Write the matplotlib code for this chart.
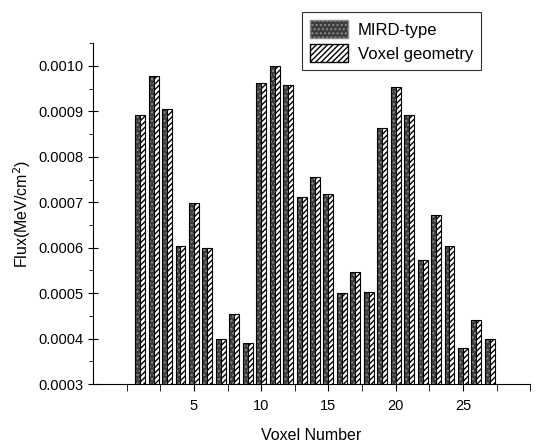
import numpy as np
import matplotlib.pyplot as plt
from matplotlib.patches import Patch
from matplotlib.ticker import MultipleLocator, FixedLocator

plt.rcParams['font.family'] = ['Liberation Sans', 'DejaVu Sans']

voxel = np.arange(1, 28)
mird = [0.000891, 0.000978, 0.000905, 0.000603, 0.000699, 0.000600, 0.000399,
        0.000454, 0.000391, 0.000962, 0.000999, 0.000959, 0.000712, 0.000755,
        0.000718, 0.000500, 0.000546, 0.000503, 0.000864, 0.000953, 0.000892,
        0.000572, 0.000673, 0.000604, 0.000380, 0.000441, 0.000398]
vox = list(mird)

fig = plt.figure(figsize=(5.41, 4.45), dpi=100)
ax = fig.add_axes([0.172, 0.137, 0.808, 0.766])

w = 0.37
# MIRD: dark stipple
ax.bar(voxel - w / 2, mird, w, facecolor='#3c3c3c', edgecolor='#8a8a8a',
       hatch='....', linewidth=0)
ax.bar(voxel - w / 2, mird, w, fill=False, edgecolor='black', linewidth=0.8)
# voxel geometry: diagonal hatch
ax.bar(voxel + w / 2, vox, w, facecolor='white', edgecolor='black',
       hatch='//////', linewidth=0.8)

ax.set_xlim(-2.5, 30)
ax.set_ylim(0.0003, 0.00105)
ax.xaxis.set_major_locator(FixedLocator([5, 10, 15, 20, 25]))
ax.xaxis.set_minor_locator(FixedLocator([0, 2.5, 7.5, 12.5, 17.5, 22.5, 27.5, 30]))
ax.yaxis.set_major_locator(MultipleLocator(0.0001))
ax.yaxis.set_minor_locator(MultipleLocator(0.00005))
ax.yaxis.set_major_formatter(plt.FuncFormatter(lambda v, p: '%.4f' % v))

for s in ['top', 'right']:
    ax.spines[s].set_visible(False)
ax.tick_params(axis='x', which='both', direction='out', length=5, labelsize=10.5, pad=6)
ax.tick_params(axis='y', which='major', direction='inout', length=7, labelsize=10.5)
ax.tick_params(axis='y', which='minor', direction='out', length=3)

ax.set_xlabel('Voxel Number', fontsize=11.5, labelpad=10.5)
ax.set_ylabel('Flux(MeV/cm$^{2}$)', fontsize=11.5)

handles = [Patch(facecolor='#3c3c3c', edgecolor='#8a8a8a', hatch='....', label='MIRD-type'),
           Patch(facecolor='white', edgecolor='black', hatch='//////', label='Voxel geometry')]
leg = fig.legend(handles=handles, loc='upper right', bbox_to_anchor=(0.904, 0.991),
                 fancybox=False, edgecolor='black', fontsize=12, handlelength=2.3,
                 handleheight=1.3, borderpad=0.45, labelspacing=0.35, handletextpad=0.6)
leg.get_frame().set_linewidth(0.8)

fig.savefig('out.png', dpi=100)
